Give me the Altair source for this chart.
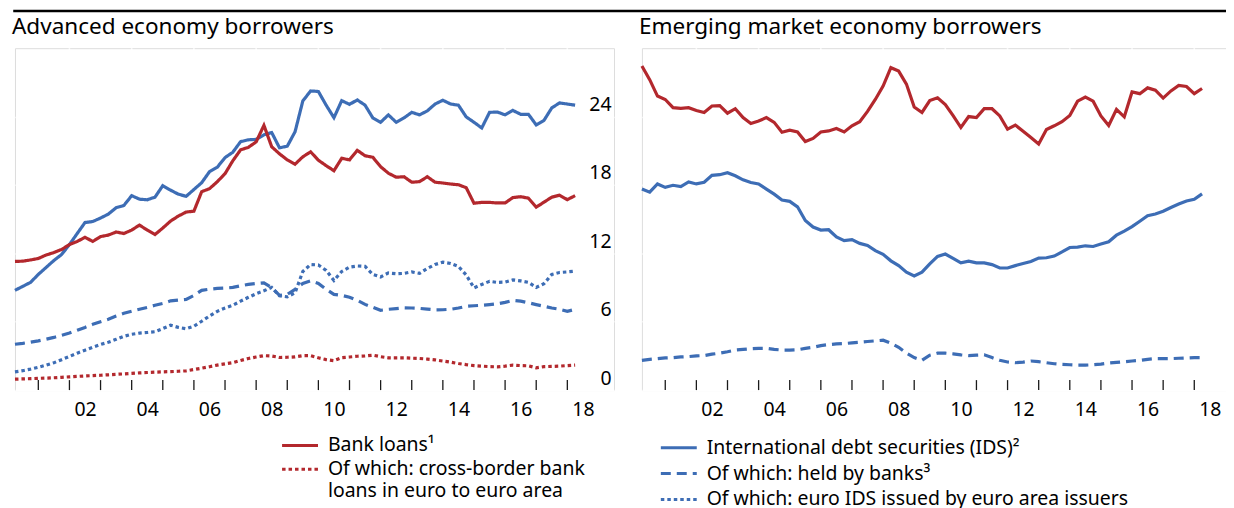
import altair as alt
import pandas as pd

RED = "#B3282D"
BLUE = "#3D6DB5"
GRAY = "#D9D9D9"
FONT = "Noto Sans"

# quarterly time index, Q1 2000 .. Q1 2018
quarters = [2000.25 + 0.25 * i for i in range(73)]

# ---- Advanced economy borrowers (USD trn) ----
adv_bank_loans = [11.29, 11.31, 11.42, 11.55, 11.85, 12.07, 12.34, 12.77, 13.04, 13.41,
                  13.04, 13.47, 13.6, 13.87, 13.74, 14.04, 14.48, 14.04, 13.65, 14.22,
                  14.83, 15.27, 15.62, 15.7, 17.41, 17.67, 18.28, 18.99, 20.12, 21.08,
                  21.3, 21.78, 23.23, 21.35, 20.73, 20.2, 19.82, 20.47, 20.91, 20.17,
                  19.69, 19.25, 20.34, 20.2, 21.04, 20.56, 20.43, 19.6, 19.03, 18.68,
                  18.72, 18.24, 18.29, 18.72, 18.24, 18.17, 18.08, 18.02, 17.76, 16.4,
                  16.47, 16.47, 16.42, 16.42, 16.89, 16.97, 16.84, 16.05, 16.49, 16.93,
                  17.1, 16.71, 17.06]
adv_xborder_euro = [0.96, 0.98, 1.0, 1.03, 1.05, 1.08, 1.12, 1.16, 1.2, 1.24,
                    1.27, 1.3, 1.34, 1.38, 1.42, 1.46, 1.51, 1.54, 1.57, 1.6,
                    1.62, 1.65, 1.69, 1.8, 1.92, 2.05, 2.19, 2.3, 2.41, 2.6,
                    2.77, 2.9, 3.02, 2.99, 2.86, 2.88, 2.91, 3.02, 3.02, 2.83,
                    2.67, 2.58, 2.84, 2.9, 2.97, 3.0, 3.06, 2.93, 2.83, 2.83,
                    2.83, 2.8, 2.77, 2.72, 2.65, 2.55, 2.45, 2.33, 2.23, 2.15,
                    2.1, 2.06, 2.04, 2.1, 2.19, 2.15, 2.13, 1.95, 2.06, 2.08,
                    2.1, 2.15, 2.19]
adv_ids = [8.75, 9.1, 9.45, 10.15, 10.76, 11.37, 11.9, 12.77, 13.74, 14.7,
           14.79, 15.1, 15.44, 16.0, 16.2, 17.06, 16.75, 16.7, 16.93, 17.94,
           17.54, 17.19, 17.0, 17.6, 18.2, 19.16, 19.55, 20.4, 20.87, 21.8,
           21.96, 22.0, 22.4, 22.6, 21.26, 21.4, 22.66, 25.37, 26.25, 26.2,
           25.0, 23.9, 25.4, 25.07, 25.46, 25.0, 23.88, 23.5, 24.15, 23.5,
           23.88, 24.37, 24.15, 24.5, 25.1, 25.43, 25.1, 25.0, 23.97, 23.5,
           23.0, 24.37, 24.4, 24.15, 24.54, 24.2, 24.2, 23.27, 23.67, 24.76,
           25.2, 25.1, 25.0]
adv_ids_banks = [4.02, 4.1, 4.2, 4.32, 4.46, 4.62, 4.81, 5.0, 5.25, 5.5,
                 5.77, 6.0, 6.21, 6.5, 6.74, 6.92, 7.09, 7.25, 7.44, 7.6,
                 7.83, 7.9, 7.96, 8.3, 8.75, 8.85, 8.92, 8.95, 9.01, 9.15,
                 9.27, 9.35, 9.41, 9.0, 8.31, 8.4, 8.84, 9.36, 9.58, 9.36,
                 8.84, 8.4, 8.31, 8.14, 7.87, 7.52, 7.26, 7.0, 7.09, 7.15,
                 7.22, 7.2, 7.17, 7.1, 7.04, 7.05, 7.09, 7.2, 7.35, 7.4,
                 7.44, 7.5, 7.57, 7.7, 7.87, 7.8, 7.66, 7.5, 7.35, 7.2,
                 7.09, 6.91, 7.09]
adv_ids_euro = [1.6, 1.7, 1.84, 2.0, 2.19, 2.4, 2.67, 2.95, 3.24, 3.5,
                3.76, 4.0, 4.2, 4.45, 4.72, 4.9, 5.0, 5.05, 5.12, 5.4,
                5.69, 5.5, 5.38, 5.6, 6.04, 6.5, 6.91, 7.2, 7.44, 7.8,
                8.14, 8.45, 8.71, 9.01, 8.27, 8.18, 8.53, 10.41, 11.02, 10.98,
                10.5, 9.62, 10.41, 10.79, 10.89, 10.85, 10.15, 9.93, 10.28, 10.21,
                10.24, 10.37, 10.24, 10.67, 11.02, 11.22, 11.11, 10.85, 10.1, 8.97,
                9.27, 9.54, 9.45, 9.48, 9.67, 9.58, 9.45, 9.01, 9.34, 10.15,
                10.32, 10.37, 10.44]

# ---- Emerging market economy borrowers (USD trn) ----
eme_bank_loans = [9.48, 9.08, 8.6, 8.5, 8.26, 8.24, 8.26, 8.18, 8.12, 8.31,
                  8.32, 8.1, 8.23, 7.97, 7.8, 7.87, 7.97, 7.83, 7.54, 7.6,
                  7.55, 7.27, 7.36, 7.55, 7.58, 7.65, 7.55, 7.73, 7.85, 8.15,
                  8.5, 8.89, 9.43, 9.33, 8.95, 8.28, 8.12, 8.47, 8.55, 8.35,
                  8.03, 7.68, 8.0, 7.97, 8.23, 8.23, 8.02, 7.63, 7.75, 7.57,
                  7.39, 7.2, 7.62, 7.73, 7.85, 8.03, 8.45, 8.57, 8.45, 8.02,
                  7.74, 8.21, 7.99, 8.72, 8.67, 8.84, 8.77, 8.54, 8.75, 8.91,
                  8.88, 8.67, 8.82]
eme_ids = [5.88, 5.79, 6.03, 5.93, 5.99, 5.95, 6.09, 6.03, 6.08, 6.28,
           6.3, 6.36, 6.27, 6.15, 6.07, 6.03, 5.88, 5.73, 5.56, 5.52,
           5.36, 4.96, 4.77, 4.68, 4.69, 4.48, 4.37, 4.4, 4.29, 4.23,
           4.08, 3.97, 3.78, 3.64, 3.45, 3.34, 3.45, 3.69, 3.91, 3.98,
           3.85, 3.72, 3.77, 3.72, 3.72, 3.67, 3.57, 3.57, 3.64, 3.7,
           3.76, 3.86, 3.87, 3.92, 4.04, 4.17, 4.18, 4.22, 4.2, 4.27,
           4.34, 4.53, 4.65, 4.78, 4.94, 5.1, 5.15, 5.23, 5.34, 5.44,
           5.53, 5.58, 5.74]
eme_ids_banks = [0.87, 0.9, 0.92, 0.94, 0.95, 0.97, 0.98, 1.0, 1.01, 1.05,
                 1.08, 1.12, 1.17, 1.19, 1.21, 1.22, 1.22, 1.19, 1.17, 1.17,
                 1.18, 1.22, 1.25, 1.3, 1.33, 1.35, 1.36, 1.38, 1.4, 1.42,
                 1.44, 1.46, 1.37, 1.25, 1.08, 0.95, 0.87, 1.02, 1.08, 1.08,
                 1.06, 1.03, 1.01, 1.02, 1.03, 0.95, 0.87, 0.82, 0.8, 0.82,
                 0.85, 0.83, 0.8, 0.77, 0.75, 0.74, 0.73, 0.73, 0.74, 0.76,
                 0.79, 0.81, 0.83, 0.85, 0.87, 0.9, 0.92, 0.92, 0.92, 0.93,
                 0.94, 0.95, 0.95]

loan_labels = ["Bank loans¹", "Of which: cross-border bank|loans in euro to euro area"]
ids_labels = ["International debt securities (IDS)²", "Of which: held by banks³",
              "Of which: euro IDS issued by euro area issuers"]

grid_years = [2002, 2004, 2006, 2008, 2010, 2012, 2014, 2016, 2018]
tick_years = [2001, 2002, 2003, 2004, 2005, 2006, 2007, 2008, 2009, 2010,
              2011, 2012, 2013, 2014, 2015, 2016, 2017, 2018]
label_years = [2002.5, 2004.5, 2006.5, 2008.5, 2010.5, 2012.5, 2014.5, 2016.5, 2018.5]
adv_ticks = [0, 6, 12, 18, 24]
eme_ticks = [0, 2, 4, 6, 8]

W, H = 601, 343
LABEL_SIZE = 19.5
TITLE_SIZE = 22.6

xscale = alt.Scale(domain=[2000.25, 2019.5], nice=False, zero=False)
xaxis = alt.Axis(values=label_years, labelExpr="format(floor(datum.value) % 100, '02d')",
                 ticks=False, tickSize=0, domain=False, grid=False, title=None,
                 labelFont=FONT, labelFontSize=LABEL_SIZE, labelColor="black",
                 labelPadding=11, labelFlush=False, labelOverlap=False)
X = alt.X("t:Q", scale=xscale, axis=xaxis)


def yaxis(vals):
    return alt.Axis(values=vals, orient="right", grid=True, gridColor="white", gridWidth=1.6,
                    ticks=False, tickSize=0, domain=False, title=None,
                    labelAlign="right", labelPadding=-3, labelBaseline="alphabetic",
                    labelOffset=-6, labelFont=FONT, labelFontSize=LABEL_SIZE,
                    labelColor="black", labelFlush=False, labelOverlap=False)


def Y(ymax, yvals):
    return alt.Y("v:Q", scale=alt.Scale(domain=[0, ymax], nice=False, zero=False), axis=yaxis(yvals))


def legend(x, y, row_h):
    return alt.Legend(orient="none", legendX=x, legendY=y, title=None, symbolType="stroke",
                      symbolSize=1300, symbolStrokeWidth=3, labelFont=FONT,
                      labelFontSize=LABEL_SIZE, labelColor="black", labelLimit=1000,
                      labelOffset=8, rowPadding=0, padding=0, clipHeight=row_h,
                      labelExpr="indexof(datum.label, '|') >= 0 ? split(datum.label, '|') : datum.label")


def background():
    grid = alt.Chart(pd.DataFrame({"t": grid_years})).mark_rule(
        color="white", strokeWidth=1.6).encode(x=X)
    ticks = alt.Chart(pd.DataFrame({"t": tick_years})).mark_rule(
        color="#1a1a1a", strokeWidth=1.3).encode(x=X, y=alt.value(H - 10), y2=alt.value(H))
    return grid, ticks


def panel_title(text):
    return alt.TitleParams(text, anchor="start", frame="group", fontSize=TITLE_SIZE, font=FONT,
                           fontWeight="normal", color="black", baseline="alphabetic",
                           offset=13 - TITLE_SIZE, dx=-3)


# ---- left panel ----
adv_loans_df = pd.DataFrame({"t": quarters * 2, "v": adv_bank_loans + adv_xborder_euro,
                             "series": [loan_labels[0]] * 73 + [loan_labels[1]] * 73})
adv_ids_df = pd.DataFrame({"t": quarters * 3, "v": adv_ids + adv_ids_banks + adv_ids_euro,
                           "series": [ids_labels[0]] * 73 + [ids_labels[1]] * 73 + [ids_labels[2]] * 73})

red_legend = legend(266, 386.5, 24)
blue_legend = legend(646, 388, 25.5)

g1, t1 = background()
red_lines = alt.Chart(adv_loans_df).mark_line(strokeWidth=3.2).encode(
    x=X, y=Y(30, adv_ticks),
    color=alt.Color("series:N", scale=alt.Scale(domain=loan_labels, range=[RED, RED]),
                    legend=red_legend),
    strokeDash=alt.StrokeDash("series:N", scale=alt.Scale(domain=loan_labels, range=[[1, 0], [3.5, 3]]),
                              legend=red_legend),
)
blue_lines = alt.Chart(adv_ids_df).mark_line(strokeWidth=3.2).encode(
    x=X, y=Y(30, adv_ticks),
    color=alt.Color("series:N", scale=alt.Scale(domain=ids_labels, range=[BLUE, BLUE, BLUE]),
                    legend=blue_legend),
    strokeDash=alt.StrokeDash("series:N",
                              scale=alt.Scale(domain=ids_labels, range=[[1, 0], [10, 6], [3.5, 3]]),
                              legend=blue_legend),
)
left = alt.layer(g1, t1, blue_lines, red_lines).resolve_scale(
    color="independent", strokeDash="independent"
).properties(width=W, height=H, title=panel_title("Advanced economy borrowers"))

# ---- right panel ----
eme_loans_df = pd.DataFrame({"t": quarters, "v": eme_bank_loans})
eme_ids_df = pd.DataFrame({"t": quarters, "v": eme_ids})
eme_banks_df = pd.DataFrame({"t": quarters, "v": eme_ids_banks})

g2, t2 = background()
r_banks = alt.Chart(eme_banks_df).mark_line(strokeWidth=3.2, color=BLUE, strokeDash=[10, 6]).encode(
    x=X, y=Y(10, eme_ticks))
r_ids = alt.Chart(eme_ids_df).mark_line(strokeWidth=3.2, color=BLUE).encode(x=X, y=Y(10, eme_ticks))
r_loans = alt.Chart(eme_loans_df).mark_line(strokeWidth=3.2, color=RED).encode(x=X, y=Y(10, eme_ticks))
right = alt.layer(g2, t2, r_banks, r_ids, r_loans).properties(
    width=W, height=H, title=panel_title("Emerging market economy borrowers"))

# ---- top black rule ----
top = alt.Chart(pd.DataFrame({"a": [0]})).mark_rule(color="black", strokeWidth=2.5).encode(
    x=alt.value(-1.75), x2=alt.value(1230), y=alt.value(1.25)
).properties(width=1226, height=3, view=alt.ViewBackground(fill="transparent", stroke="transparent"))

chart = alt.vconcat(
    top,
    alt.hconcat(left, right, spacing=28, bounds="flush"),
    spacing=35.5, bounds="flush",
).properties(
    padding={"left": 0, "top": 0, "right": -17, "bottom": 0}
).configure_view(
    fill=GRAY, stroke=None
).configure(font=FONT)

chart.save("out.html", embed_options={"renderer": "svg", "actions": False})
